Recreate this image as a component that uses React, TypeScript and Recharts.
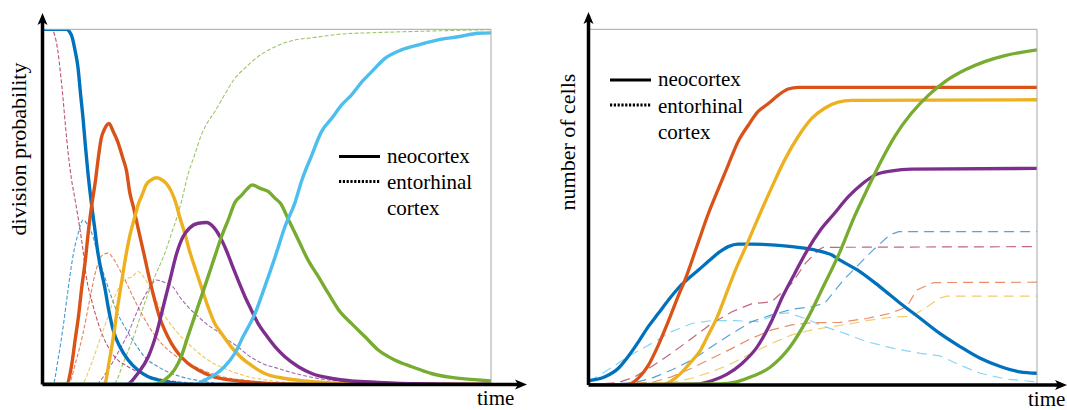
import React from 'react';
import { LineChart, Line, XAxis, YAxis } from 'recharts';

// MATLAB default palette
const BLUE = '#0072BD';
const ORANGE = '#D95319';
const YELLOW = '#EDB120';
const PURPLE = '#7E2F8E';
const GREEN = '#77AC30';
const CYAN = '#4DBEEE';
const DARKRED = '#A2142F';

const X_TICKS = [0, 10, 20, 30, 40, 50, 60];
const Y_TICKS = [0, 0.1, 0.2, 0.3, 0.4, 0.5, 0.6, 0.7, 0.8, 0.9, 1];

// left panel: division probability, neocortex (solid)
const L_NEO_1 = [[0,1],[3.1,1],[3.8,0.984],[4.3,0.94],[4.7,0.89],[5.0,0.824],[5.36,0.75],[5.67,0.674],[6.0,0.6],[6.4,0.524],[6.9,0.444],[7.3,0.378],[7.7,0.33],[8.26,0.275],[8.8,0.21],[9.4,0.153],[10.3,0.106],[11.4,0.069],[12.7,0.041],[14.1,0.022],[15.4,0.013],[17.2,0.005],[20,0],[60,0]];
const L_NEO_2 = [[0,0],[3.1,0],[3.8,0.05],[4.3,0.125],[4.8,0.2],[5.2,0.275],[5.67,0.35],[6.1,0.435],[6.6,0.515],[7.0,0.57],[7.4,0.637],[7.8,0.693],[8.26,0.72],[8.84,0.735],[9.4,0.712],[10.0,0.684],[10.7,0.637],[11.2,0.6],[11.6,0.543],[12.1,0.5],[12.9,0.425],[13.6,0.36],[14.3,0.294],[14.96,0.238],[15.6,0.19],[16.3,0.153],[17.2,0.116],[18.1,0.088],[19.4,0.06],[20.8,0.041],[22.5,0.024],[24.3,0.015],[27,0.008],[30,0.003],[35,0],[60,0]];
const L_NEO_3 = [[0,0],[8.2,0],[8.9,0.069],[9.5,0.144],[10.0,0.219],[10.5,0.285],[11.0,0.35],[11.6,0.416],[12.3,0.472],[12.8,0.51],[13.3,0.535],[13.8,0.562],[14.5,0.576],[15.2,0.582],[15.8,0.578],[16.5,0.566],[17.2,0.543],[17.8,0.51],[18.3,0.472],[19.0,0.425],[19.6,0.378],[20.3,0.332],[21.2,0.275],[22.1,0.219],[23.0,0.172],[23.9,0.144],[25.2,0.106],[26.6,0.075],[27.5,0.06],[29.7,0.031],[32.4,0.017],[35.1,0.01],[40,0.003],[45,0],[60,0]];
const L_NEO_4 = [[0,0],[11.2,0],[12.7,0.031],[14.1,0.078],[15.2,0.144],[16.1,0.219],[17.0,0.294],[17.9,0.369],[18.75,0.416],[19.6,0.44],[20.8,0.454],[21.9,0.456],[22.8,0.444],[23.7,0.416],[24.55,0.378],[25.4,0.332],[26.3,0.285],[27.1,0.245],[27.9,0.21],[28.8,0.172],[29.7,0.144],[31.1,0.106],[32.4,0.078],[34.2,0.05],[36,0.031],[38.7,0.017],[41.3,0.01],[44.9,0.006],[50,0.002],[60,0]];
const L_NEO_5 = [[0,0],[14.7,0],[16.3,0.013],[17.6,0.041],[18.5,0.078],[19.4,0.135],[20.3,0.191],[21.2,0.247],[22.1,0.303],[23.0,0.36],[23.9,0.416],[24.8,0.463],[25.7,0.512],[26.6,0.533],[27.4,0.552],[28.0,0.562],[29.1,0.552],[30.2,0.543],[31.1,0.524],[31.8,0.51],[32.9,0.463],[34.2,0.407],[35.5,0.35],[36.9,0.303],[38.2,0.257],[39.6,0.21],[41.3,0.172],[43.1,0.135],[44.9,0.097],[47.1,0.069],[49.4,0.05],[52,0.031],[54.7,0.02],[58.2,0.013],[60,0.01]];
const L_NEO_6 = [[0,0],[20.3,0],[21.7,0.013],[23,0.027],[24.3,0.05],[25.7,0.088],[26.8,0.135],[28.4,0.2],[29.7,0.275],[31.1,0.36],[32.4,0.444],[33.75,0.512],[34.6,0.571],[36,0.646],[37.3,0.712],[38.7,0.75],[40,0.787],[41.3,0.815],[42.7,0.852],[44,0.88],[45.8,0.918],[48,0.942],[50.3,0.956],[52.9,0.97],[55.6,0.979],[58.3,0.989],[60,0.99]];

// left panel: entorhinal cortex (dashed)
const L_EC_1 = [[0,1],[1.1,1],[1.56,0.984],[2.0,0.937],[2.37,0.871],[2.68,0.806],[3.0,0.73],[3.35,0.655],[3.8,0.58],[4.3,0.52],[4.9,0.444],[5.36,0.378],[5.8,0.303],[6.5,0.238],[7.4,0.172],[8.26,0.125],[9.6,0.078],[11.4,0.05],[13.6,0.027],[16.3,0.013],[20,0.004],[25,0],[60,0]];
const L_EC_2 = [[0,0],[1.34,0],[2.0,0.069],[2.7,0.163],[3.35,0.266],[4.0,0.36],[4.7,0.425],[5.36,0.463],[6.0,0.449],[6.7,0.416],[7.4,0.36],[8.26,0.303],[9.15,0.247],[10,0.2],[11.2,0.153],[12.3,0.116],[13.6,0.078],[15.4,0.05],[17.2,0.031],[19.4,0.017],[21.7,0.008],[25,0],[60,0]];
const L_EC_3 = [[0,0],[3.35,0],[4.46,0.069],[5.36,0.144],[6.25,0.238],[7.1,0.322],[8.0,0.365],[8.7,0.37],[9.4,0.355],[10.3,0.322],[11.2,0.285],[12.05,0.247],[13.2,0.2],[14.5,0.153],[15.85,0.116],[17.6,0.083],[19.9,0.055],[22.5,0.031],[25.2,0.017],[28,0.01],[32,0],[60,0]];
const L_EC_4 = [[0,0],[5.1,0],[6.5,0.06],[7.6,0.125],[8.7,0.191],[9.8,0.257],[10.9,0.294],[12.05,0.305],[12.7,0.318],[13.6,0.299],[14.5,0.266],[15.6,0.219],[16.7,0.181],[18.1,0.144],[19.9,0.106],[22.1,0.069],[24.3,0.045],[27,0.025],[31.5,0.008],[36,0.002],[60,0]];
const L_EC_5 = [[0,0],[6.9,0],[8.7,0.041],[10,0.088],[11.4,0.144],[12.7,0.21],[14.1,0.266],[15.2,0.294],[16.3,0.287],[17.4,0.275],[18.3,0.247],[19.4,0.219],[20.8,0.191],[22.1,0.167],[23.4,0.149],[24.8,0.125],[26.1,0.106],[27.3,0.085],[29.3,0.06],[31.5,0.045],[33.75,0.031],[36.9,0.017],[40.4,0.008],[44.9,0.005],[50,0.002],[60,0]];
const L_EC_6 = [[0,0],[9.4,0],[10.9,0.069],[12.3,0.144],[13.6,0.228],[14.96,0.303],[16.3,0.369],[17.2,0.425],[18.1,0.482],[18.6,0.52],[19.4,0.59],[20.3,0.646],[21.2,0.702],[22.1,0.74],[23,0.768],[24.3,0.815],[25.7,0.862],[27,0.89],[28.8,0.923],[31.1,0.951],[33.75,0.97],[36,0.976],[39.6,0.986],[44.9,0.991],[51.6,0.995],[60,0.999]];

// right panel: number of cells, neocortex (solid)
const R_NEO_1 = [[0,0.012],[2.2,0.023],[4.0,0.047],[5.3,0.08],[6.7,0.122],[8.0,0.164],[9.3,0.2],[10.7,0.239],[12.0,0.272],[13.4,0.3],[14.7,0.323],[16.0,0.347],[17.4,0.372],[18.7,0.389],[20.0,0.396],[21.8,0.396],[24.5,0.394],[27.2,0.389],[29.9,0.381],[32.5,0.366],[33.65,0.351],[36.3,0.319],[39,0.276],[41.7,0.23],[44.4,0.187],[47,0.145],[49.7,0.108],[52.4,0.075],[55.1,0.052],[57.7,0.037],[60,0.033]];
const R_NEO_2 = [[0,0],[5,0],[6.7,0.02],[8,0.055],[9.3,0.11],[10.7,0.18],[12,0.25],[12.9,0.295],[14.5,0.39],[16,0.48],[17.4,0.553],[18.7,0.619],[20,0.684],[21.4,0.731],[22.7,0.769],[24.1,0.792],[25.4,0.815],[26.7,0.832],[28.1,0.837],[60,0.837]];
const R_NEO_3 = [[0,0],[9.5,0],[11,0.01],[12.2,0.03],[13.5,0.06],[14.9,0.095],[16,0.14],[17.2,0.19],[18.4,0.255],[19.7,0.325],[21.2,0.396],[22.7,0.47],[24.5,0.555],[26.3,0.635],[28.1,0.7],[29.9,0.75],[31.6,0.778],[33.4,0.795],[35.2,0.8],[60,0.802]];
const R_NEO_4 = [[0,0],[14.5,0.003],[16.5,0.012],[18.5,0.03],[20.5,0.06],[22.5,0.105],[24.5,0.18],[26,0.25],[27.5,0.31],[29.3,0.38],[31,0.435],[32.8,0.48],[34.8,0.53],[36.6,0.565],[38.3,0.59],[40.6,0.602],[43.2,0.607],[60,0.609]];
const R_NEO_5 = [[0,0],[17.4,0.003],[19.8,0.009],[22,0.025],[24.3,0.05],[27,0.108],[29.2,0.183],[31.4,0.276],[33.65,0.375],[35.5,0.47],[37.4,0.555],[39.2,0.632],[41,0.7],[43.2,0.764],[45.5,0.815],[47.7,0.853],[50.4,0.886],[53,0.909],[55.7,0.926],[60,0.942]];

// right panel: entorhinal cortex (dashed)
const R_EC_1 = [[0,0.01],[2.2,0.037],[5.3,0.08],[8.45,0.117],[11.1,0.15],[13.8,0.173],[16.5,0.181],[19.6,0.181],[22.7,0.178],[25.4,0.2],[26.7,0.203],[29,0.187],[31.6,0.164],[34.3,0.145],[37.2,0.122],[40.8,0.103],[44.4,0.089],[47,0.082],[49.7,0.056],[52.4,0.033],[56,0.016],[60,0.009]];
const R_EC_2 = [[0,0],[4,0.007],[6.2,0.023],[8.45,0.052],[11.1,0.089],[13.8,0.131],[16.5,0.173],[19.2,0.206],[21.8,0.228],[24.5,0.234],[27.2,0.286],[29,0.342],[30.8,0.38],[31.4,0.387],[60,0.389]];
const R_EC_3 = [[0,0],[6.2,0.007],[8.45,0.019],[11.1,0.042],[13.8,0.07],[16.5,0.108],[19.2,0.145],[21.8,0.178],[24.5,0.197],[27.2,0.213],[29.9,0.22],[31.6,0.23],[34.1,0.295],[36.3,0.342],[38.1,0.38],[40.3,0.422],[41.5,0.431],[60,0.431]];
const R_EC_4 = [[0,0],[8.45,0.007],[11.1,0.023],[13.8,0.047],[16.5,0.075],[19.2,0.103],[21.8,0.131],[24.5,0.155],[27.2,0.169],[29.9,0.175],[33.65,0.176],[37.2,0.187],[40.3,0.201],[42.6,0.22],[43.9,0.267],[46.2,0.288],[60,0.289]];
const R_EC_5 = [[0,0],[11.1,0.007],[13.8,0.019],[16.5,0.037],[19.2,0.061],[21.8,0.089],[24.5,0.117],[27.2,0.141],[29.9,0.155],[32.5,0.164],[35,0.172],[37.2,0.181],[40.3,0.19],[43.3,0.194],[45.3,0.22],[47,0.244],[47.9,0.25],[60,0.25]];

const pts = (a: number[][]) => a.map(([t, y]) => ({ t, y }));

const LEFT_SOLID = [
  { data: L_NEO_1, color: BLUE },
  { data: L_NEO_2, color: ORANGE },
  { data: L_NEO_3, color: YELLOW },
  { data: L_NEO_4, color: PURPLE },
  { data: L_NEO_5, color: GREEN },
  { data: L_NEO_6, color: CYAN },
];
const LEFT_DASHED = [
  { data: L_EC_1, color: DARKRED },
  { data: L_EC_2, color: BLUE },
  { data: L_EC_3, color: ORANGE },
  { data: L_EC_4, color: YELLOW },
  { data: L_EC_5, color: PURPLE },
  { data: L_EC_6, color: GREEN },
];
const RIGHT_SOLID = [
  { data: R_NEO_1, color: BLUE },
  { data: R_NEO_2, color: ORANGE },
  { data: R_NEO_3, color: YELLOW },
  { data: R_NEO_4, color: PURPLE },
  { data: R_NEO_5, color: GREEN },
];
const RIGHT_DASHED = [
  { data: R_EC_1, color: CYAN },
  { data: R_EC_2, color: DARKRED },
  { data: R_EC_3, color: BLUE },
  { data: R_EC_4, color: ORANGE },
  { data: R_EC_5, color: YELLOW },
];

const SERIF: React.CSSProperties = { fontFamily: "'Liberation Serif', 'DejaVu Serif', serif" };
const FRAME = '#a6a6a6';

function frameAxes() {
  return [
    <XAxis key="xb" xAxisId="b" type="number" dataKey="t" domain={[0, 60]} ticks={X_TICKS} orientation="bottom" mirror tick={false} axisLine={false} tickLine={{ stroke: '#666' }} tickSize={4} allowDataOverflow />,
    <XAxis key="xt" xAxisId="t" type="number" dataKey="t" domain={[0, 60]} ticks={X_TICKS} orientation="top" mirror tick={false} axisLine={{ stroke: FRAME }} tickLine={{ stroke: '#666' }} tickSize={4} allowDataOverflow />,
    <YAxis key="yl" yAxisId="l" type="number" domain={[0, 1]} ticks={Y_TICKS} orientation="left" mirror tick={false} axisLine={false} tickLine={{ stroke: '#666' }} tickSize={4} allowDataOverflow />,
    <YAxis key="yr" yAxisId="r" type="number" domain={[0, 1]} ticks={Y_TICKS} orientation="right" mirror tick={false} axisLine={{ stroke: FRAME }} tickLine={{ stroke: '#666' }} tickSize={4} allowDataOverflow />,
  ];
}

function Legend({ x, y }: { x: number; y: number }) {
  return (
    <g>
      <line x1={x} x2={x + 41} y1={y} y2={y} stroke="#000" strokeWidth={3} />
      <line x1={x} x2={x + 41} y1={y + 25} y2={y + 25} stroke="#000" strokeWidth={3} strokeDasharray="2.2 1.6" />
      <text x={x + 48} y={y + 6} fontSize={21} style={SERIF}>neocortex</text>
      <text x={x + 48} y={y + 32.5} fontSize={21} style={SERIF}>entorhinal</text>
      <text x={x + 48} y={y + 58.5} fontSize={21} style={SERIF}>cortex</text>
    </g>
  );
}

export default function App() {
  return (
    <div style={{ position: 'absolute', left: 0, top: 0, width: 1067, height: 410, background: '#fff', overflow: 'hidden' }}>
      <div style={{ position: 'absolute', left: 0, top: 0 }}>
        <LineChart width={540} height={410} margin={{ top: 29.3, right: 49, bottom: 25.5, left: 43 }}>
          {frameAxes()}
          {LEFT_DASHED.map((s, i) => (
            <Line key={'ld' + i} xAxisId="b" yAxisId="l" data={pts(s.data)} dataKey="y" type="monotone" stroke={s.color} strokeOpacity={0.72} strokeWidth={1.1} strokeDasharray="4 2" dot={false} activeDot={false} isAnimationActive={false} />
          ))}
          {LEFT_SOLID.map((s, i) => (
            <Line key={'ls' + i} xAxisId="b" yAxisId="l" data={pts(s.data)} dataKey="y" type="monotone" stroke={s.color} strokeWidth={3.4} dot={false} activeDot={false} isAnimationActive={false} />
          ))}
        </LineChart>
      </div>
      <div style={{ position: 'absolute', left: 540, top: 0 }}>
        <LineChart width={527} height={410} margin={{ top: 29.3, right: 30, bottom: 25, left: 48.5 }}>
          {frameAxes()}
          {RIGHT_DASHED.map((s, i) => (
            <Line key={'rd' + i} xAxisId="b" yAxisId="l" data={pts(s.data)} dataKey="y" type="linear" stroke={s.color} strokeOpacity={0.65} strokeWidth={1.2} strokeDasharray="10 6" dot={false} activeDot={false} isAnimationActive={false} />
          ))}
          {RIGHT_SOLID.map((s, i) => (
            <Line key={'rs' + i} xAxisId="b" yAxisId="l" data={pts(s.data)} dataKey="y" type="monotone" stroke={s.color} strokeWidth={3.3} dot={false} activeDot={false} isAnimationActive={false} />
          ))}
        </LineChart>
      </div>
      <svg width={1067} height={410} style={{ position: 'absolute', left: 0, top: 0, pointerEvents: 'none' }}>
        {/* left axes with arrows */}
        <line x1={42.5} y1={384.5} x2={42.5} y2={20} stroke="#000" strokeWidth={3.5} />
        <polygon points="42.5,13 37.5,25 42.5,22 47.5,25" fill="#000" />
        <line x1={42.5} y1={384.5} x2={520} y2={384.5} stroke="#000" strokeWidth={3.5} />
        <polygon points="527,384.5 515,379.5 518,384.5 515,389.5" fill="#000" />
        <text x={26} y={149} transform="rotate(-90 26 149)" textAnchor="middle" fontSize={22} style={SERIF}>division probability</text>
        <text x={477} y={405} fontSize={21} style={SERIF}>time</text>
        <Legend x={339} y={156.5} />

        {/* right axes with arrows */}
        <line x1={588.5} y1={385} x2={588.5} y2={19} stroke="#000" strokeWidth={3.5} />
        <polygon points="588.5,12 583.5,24 588.5,21 593.5,24" fill="#000" />
        <line x1={588.5} y1={385} x2={1060} y2={385} stroke="#000" strokeWidth={3.5} />
        <polygon points="1067,385 1055,380 1058,385 1055,390" fill="#000" />
        <text x={575} y={142} transform="rotate(-90 575 142)" textAnchor="middle" fontSize={22} style={SERIF}>number of cells</text>
        <text x={1028} y={406} fontSize={21} style={SERIF}>time</text>
        <Legend x={610} y={80} />
      </svg>
    </div>
  );
}
